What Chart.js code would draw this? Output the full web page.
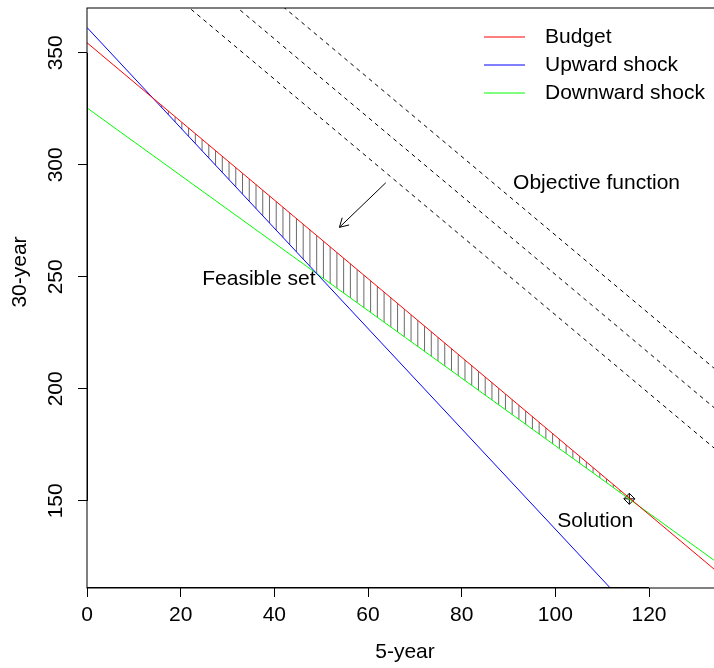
<!DOCTYPE html>
<html><head><meta charset="utf-8">
<script src="https://cdn.jsdelivr.net/npm/chart.js@4/dist/chart.umd.min.js"></script>
<style>html,body{margin:0;padding:0;overflow:hidden;background:#fff;width:714px;height:668px}</style>
</head><body>
<canvas id="c" width="740" height="668" style="display:block;width:740px;height:668px"></canvas>
<script>
// ---- data ----
const seriesNames = ['Budget', 'Upward shock', 'Downward shock'];
const budgetX = [0, 140];
const budgetY = [354.5, 108.8];
const upwardX = [0, 140];
const upwardY = [361.3, 47.8];
const downwardX = [0, 140];
const downwardY = [325.4, 114.3];
const objectiveX = [0, 140];
const objective1Y = [408.4, 162.9];
const objective2Y = [426.4, 180.9];
const objective3Y = [444.0, 198.5];
const solutionX = [115.8];
const solutionY = [150.9];
const xTicks = [0, 20, 40, 60, 80, 100, 120];
const yTicks = [150, 200, 250, 300, 350];
const noteLabels = ['Objective function', 'Feasible set', 'Solution'];
const noteX = [108.8, 36.7, 108.5];
const noteY = [291.8, 249.0, 140.9];
const arrowX = [63.8, 53.9];
const arrowY = [292.0, 272.1];
const xTitle = '5-year';
const yTitle = '30-year';

// ---- style ----
const FONT = '21px "Liberation Sans", Arial, sans-serif';
const fontObj = { family: '"Liberation Sans", Arial, sans-serif', size: 21 };
const hatchAnchor = 49.04, hatchStep = 1.4394;

function pts(xs, ys) { return xs.map((x, i) => ({ x: x, y: ys[i] })); }
function lineAt(xs, ys, x) {
  const t = (x - xs[0]) / (xs[1] - xs[0]);
  return ys[0] + t * (ys[1] - ys[0]);
}
function noPad(s) { s.paddingTop = 0; s.paddingBottom = 0; s.paddingLeft = 0; s.paddingRight = 0; }

const hatchPlugin = {
  id: 'hatch',
  beforeDatasetsDraw(chart) {
    const ctx = chart.ctx, ca = chart.chartArea, xs = chart.scales.x, ys = chart.scales.y;
    ctx.save();
    ctx.beginPath(); ctx.rect(ca.left, ca.top, ca.right - ca.left, ca.bottom - ca.top); ctx.clip();
    ctx.strokeStyle = '#6a6a6a'; ctx.lineWidth = 1;
    ctx.beginPath();
    for (let k = -60; k <= 80; k++) {
      const x = hatchAnchor + k * hatchStep;
      if (x < budgetX[0] || x > solutionX[0]) continue;
      const top = lineAt(budgetX, budgetY, x);
      const bot = Math.max(lineAt(upwardX, upwardY, x), lineAt(downwardX, downwardY, x));
      if (top <= bot) continue;
      const px = xs.getPixelForValue(x);
      ctx.moveTo(px, ys.getPixelForValue(top));
      ctx.lineTo(px, ys.getPixelForValue(bot));
    }
    ctx.stroke();
    ctx.restore();
  }
};

const decorPlugin = {
  id: 'decor',
  afterDraw(chart) {
    const ctx = chart.ctx, ca = chart.chartArea, xs = chart.scales.x, ys = chart.scales.y;
    ctx.save();
    // box
    ctx.strokeStyle = '#000'; ctx.lineWidth = 1;
    ctx.strokeRect(ca.left, ca.top, ca.right - ca.left, ca.bottom - ca.top);
    // axis lines over tick range
    ctx.beginPath();
    ctx.moveTo(xs.getPixelForValue(xTicks[0]), Math.round(ca.bottom) - 0.5);
    ctx.lineTo(xs.getPixelForValue(xTicks[xTicks.length - 1]), Math.round(ca.bottom) - 0.5);
    ctx.moveTo(Math.round(ca.left) + 0.5, ys.getPixelForValue(yTicks[0]));
    ctx.lineTo(Math.round(ca.left) + 0.5, ys.getPixelForValue(yTicks[yTicks.length - 1]));
    ctx.stroke();

    // annotations
    ctx.fillStyle = '#000'; ctx.font = FONT;
    ctx.textAlign = 'center'; ctx.textBaseline = 'middle';
    noteLabels.forEach((t, i) => {
      ctx.fillText(t, xs.getPixelForValue(noteX[i]), ys.getPixelForValue(noteY[i]));
    });

    // arrow
    const x0 = xs.getPixelForValue(arrowX[0]), y0 = ys.getPixelForValue(arrowY[0]);
    const x1 = xs.getPixelForValue(arrowX[1]), y1 = ys.getPixelForValue(arrowY[1]);
    const ang = Math.atan2(y1 - y0, x1 - x0), hl = 10, ha = Math.PI / 6;
    ctx.beginPath();
    ctx.moveTo(x0, y0); ctx.lineTo(x1, y1);
    ctx.moveTo(x1 - hl * Math.cos(ang - ha), y1 - hl * Math.sin(ang - ha));
    ctx.lineTo(x1, y1);
    ctx.lineTo(x1 - hl * Math.cos(ang + ha), y1 - hl * Math.sin(ang + ha));
    ctx.stroke();

    // legend
    const legLineX = [484, 525], legTextX = 545, legRowY = [37, 65, 93];
    ctx.textAlign = 'left';
    for (let i = 0; i < 3; i++) {
      const ds = chart.data.datasets[i];
      ctx.strokeStyle = ds.borderColor;
      ctx.beginPath();
      ctx.moveTo(legLineX[0], legRowY[i]); ctx.lineTo(legLineX[1], legRowY[i]);
      ctx.stroke();
      ctx.fillText(ds.label, legTextX, legRowY[i]);
    }

    // y axis title
    ctx.translate(20, 272);
    ctx.rotate(-Math.PI / 2);
    ctx.textAlign = 'center';
    ctx.fillText(yTitle, 0, 0);
    ctx.restore();
  }
};

const lineDs = (label, xs, ys, color, dash) => ({
  label: label, data: pts(xs, ys), showLine: true, borderColor: color,
  backgroundColor: color, borderWidth: 1, pointRadius: 0, borderDash: dash || [], fill: false
});

new Chart(document.getElementById('c'), {
  type: 'scatter',
  data: {
    datasets: [
      lineDs(seriesNames[0], budgetX, budgetY, '#ff0000'),
      lineDs(seriesNames[1], upwardX, upwardY, '#0000ff'),
      lineDs(seriesNames[2], downwardX, downwardY, '#00ff00'),
      lineDs('Objective function 1', objectiveX, objective1Y, '#000000', [4, 4]),
      lineDs('Objective function 2', objectiveX, objective2Y, '#000000', [4, 4]),
      lineDs('Objective function 3', objectiveX, objective3Y, '#000000', [4, 4]),
      { label: 'Solution', data: pts(solutionX, solutionY), pointStyle: 'rectRot', pointRadius: 5.5,
        borderColor: '#000', backgroundColor: 'rgba(0,0,0,0)', borderWidth: 1, showLine: false },
      { label: 'Solution', data: pts(solutionX, solutionY), pointStyle: 'cross', pointRadius: 5.5,
        borderColor: '#000', backgroundColor: 'rgba(0,0,0,0)', borderWidth: 1, showLine: false }
    ]
  },
  options: {
    responsive: false, animation: false, events: [],
    layout: { padding: { top: 8, right: 17, left: 0, bottom: 0 } },
    plugins: { legend: { display: false }, tooltip: { enabled: false } },
    scales: {
      x: {
        type: 'linear', min: 0, max: 135.8,
        afterBuildTicks: s => { s.ticks = xTicks.map(v => ({ value: v })); },
        afterFit: s => { s.height = 80; noPad(s); },
        ticks: { font: fontObj, color: '#000', padding: 6, maxRotation: 0, autoSkip: false },
        grid: { display: true, drawOnChartArea: false, drawTicks: true, tickLength: 9, color: '#000', lineWidth: 1 },
        border: { display: false },
        title: { display: true, text: xTitle, font: fontObj, color: '#000', padding: { top: 0, bottom: 3 } }
      },
      y: {
        type: 'linear', min: 111.1, max: 370,
        afterBuildTicks: s => { s.ticks = yTicks.map(v => ({ value: v })); },
        afterFit: s => { s.width = 87; noPad(s); },
        ticks: { font: fontObj, color: '#000', padding: 4, minRotation: 90, maxRotation: 90, crossAlign: 'center', autoSkip: false },
        grid: { display: true, drawOnChartArea: false, drawTicks: true, tickLength: 9, color: '#000', lineWidth: 1 },
        border: { display: false }
      }
    }
  },
  plugins: [hatchPlugin, decorPlugin]
});
</script>
</body></html>
